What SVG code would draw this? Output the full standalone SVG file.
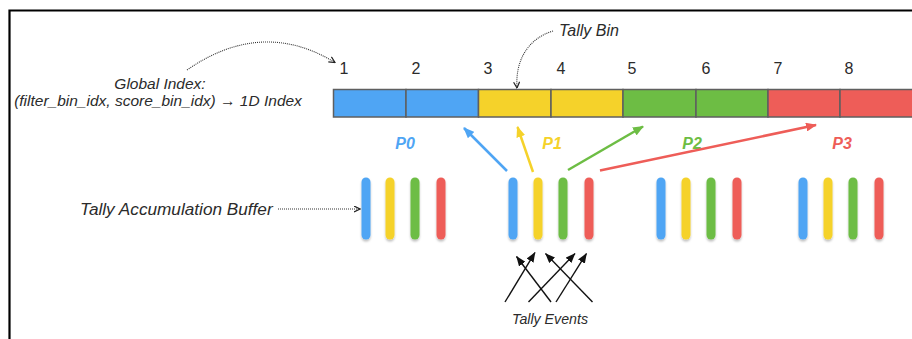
<svg xmlns="http://www.w3.org/2000/svg" width="912" height="339" viewBox="0 0 912 339">
<style>
.lbl{font-family:"Liberation Sans",Arial,sans-serif;font-style:italic;fill:#2b2b2b}
.num{font-family:"Liberation Sans",Arial,sans-serif;font-size:16px;fill:#2b2b2b;text-anchor:middle}
.p{font-family:"Liberation Sans",Arial,sans-serif;font-style:italic;font-weight:bold;font-size:16px;text-anchor:middle}
.bin{stroke:#5f5f5f;stroke-width:1.5}
.pill{stroke-width:9;stroke-linecap:round}
.dot{fill:none;stroke:#333;stroke-width:1.1;stroke-dasharray:1 1}
.carr{fill:none;stroke-width:2.5}
.ev{fill:none;stroke:#111;stroke-width:1.4}
</style>
<defs>
<filter id="sh" x="-1" y="-0.2" width="3" height="1.5">
<feDropShadow dx="0" dy="2" stdDeviation="1.2" flood-color="#000" flood-opacity="0.25"/>
</filter>
<marker id="ab" viewBox="0 0 11 9" refX="10" refY="4.5" markerWidth="11" markerHeight="9" markerUnits="userSpaceOnUse" orient="auto"><path d="M0,0 L11,4.5 L0,9 z" fill="#4FA5F4"/></marker>
<marker id="ay" viewBox="0 0 11 9" refX="10" refY="4.5" markerWidth="11" markerHeight="9" markerUnits="userSpaceOnUse" orient="auto"><path d="M0,0 L11,4.5 L0,9 z" fill="#F5D22A"/></marker>
<marker id="ag" viewBox="0 0 11 9" refX="10" refY="4.5" markerWidth="11" markerHeight="9" markerUnits="userSpaceOnUse" orient="auto"><path d="M0,0 L11,4.5 L0,9 z" fill="#6DBD44"/></marker>
<marker id="ar" viewBox="0 0 11 9" refX="10" refY="4.5" markerWidth="11" markerHeight="9" markerUnits="userSpaceOnUse" orient="auto"><path d="M0,0 L11,4.5 L0,9 z" fill="#EE5D58"/></marker>
<marker id="ak" viewBox="0 0 10 8" refX="9.5" refY="4" markerWidth="10" markerHeight="8" markerUnits="userSpaceOnUse" orient="auto"><path d="M0,0 L10,4 L0,8 z" fill="#111"/></marker>
<marker id="ao" viewBox="0 0 7 7" refX="6.5" refY="3.5" markerWidth="7" markerHeight="7" markerUnits="userSpaceOnUse" orient="auto"><path d="M0.5,0.5 L6.5,3.5 L0.5,6.5" fill="none" stroke="#222" stroke-width="1.2"/></marker>
</defs>
<rect width="912" height="339" fill="#fff"/>
<g id="frame" fill="none" stroke="#000" stroke-width="2.2">
<path d="M912,10.5 H9.5 V339"/>
</g>
<g id="bins">
<rect class="bin" x="333.5" y="89.5" width="72.5" height="27.5" fill="#4FA5F4"/>
<rect class="bin" x="406" y="89.5" width="72.5" height="27.5" fill="#4FA5F4"/>
<rect class="bin" x="478.5" y="89.5" width="72.5" height="27.5" fill="#F5D22A"/>
<rect class="bin" x="551" y="89.5" width="72" height="27.5" fill="#F5D22A"/>
<rect class="bin" x="623" y="89.5" width="73" height="27.5" fill="#6DBD44"/>
<rect class="bin" x="696" y="89.5" width="72" height="27.5" fill="#6DBD44"/>
<rect class="bin" x="768" y="89.5" width="72" height="27.5" fill="#EE5D58"/>
<rect class="bin" x="840" y="89.5" width="80" height="27.5" fill="#EE5D58"/>
</g>
<g id="bin-numbers">
<text class="num" x="344" y="74">1</text>
<text class="num" x="416" y="74">2</text>
<text class="num" x="488" y="74">3</text>
<text class="num" x="561" y="74">4</text>
<text class="num" x="632" y="74">5</text>
<text class="num" x="706" y="74">6</text>
<text class="num" x="778" y="74">7</text>
<text class="num" x="849" y="74">8</text>
</g>
<g id="global-index-label">
<text class="lbl" x="160" y="88.5" font-size="15.5" text-anchor="middle">Global Index:</text>
<text class="lbl" x="158" y="106" font-size="15.5" text-anchor="middle">(filter_bin_idx, score_bin_idx) → 1D Index</text>
</g>
<g id="tally-bin-label">
<text class="lbl" x="559" y="36" font-size="16">Tally Bin</text>
</g>
<g id="buffer-label">
<text class="lbl" x="80" y="215" font-size="17.2">Tally Accumulation Buffer</text>
</g>
<g id="events-label">
<text class="lbl" x="550" y="324" font-size="14.2" text-anchor="middle">Tally Events</text>
</g>
<g id="proc-labels">
<text class="p" x="405" y="149" fill="#4FA5F4">P0</text>
<text class="p" x="552" y="149" fill="#F5D22A">P1</text>
<text class="p" x="692" y="149" fill="#6DBD44">P2</text>
<text class="p" x="842" y="149" fill="#EE5D58">P3</text>
</g>
<g id="buffer-P0" class="pill" filter="url(#sh)">
<line x1="366" y1="182" x2="366" y2="235" stroke="#4FA5F4"/>
<line x1="390" y1="182" x2="390" y2="235" stroke="#F5D22A"/>
<line x1="415" y1="182" x2="415" y2="235" stroke="#6DBD44"/>
<line x1="441" y1="182" x2="441" y2="235" stroke="#EE5D58"/>
</g>
<g id="buffer-P1" class="pill" filter="url(#sh)">
<line x1="513" y1="182" x2="513" y2="235" stroke="#4FA5F4"/>
<line x1="538" y1="182" x2="538" y2="235" stroke="#F5D22A"/>
<line x1="563" y1="182" x2="563" y2="235" stroke="#6DBD44"/>
<line x1="589" y1="182" x2="589" y2="235" stroke="#EE5D58"/>
</g>
<g id="buffer-P2" class="pill" filter="url(#sh)">
<line x1="661" y1="182" x2="661" y2="235" stroke="#4FA5F4"/>
<line x1="686" y1="182" x2="686" y2="235" stroke="#F5D22A"/>
<line x1="711" y1="182" x2="711" y2="235" stroke="#6DBD44"/>
<line x1="737" y1="182" x2="737" y2="235" stroke="#EE5D58"/>
</g>
<g id="buffer-P3" class="pill" filter="url(#sh)">
<line x1="803" y1="182" x2="803" y2="235" stroke="#4FA5F4"/>
<line x1="828" y1="182" x2="828" y2="235" stroke="#F5D22A"/>
<line x1="853" y1="182" x2="853" y2="235" stroke="#6DBD44"/>
<line x1="879" y1="182" x2="879" y2="235" stroke="#EE5D58"/>
</g>
<g id="connectors">
<path class="dot" d="M187,70 Q262,18 335,62.5" marker-end="url(#ao)"/>
<path class="dot" d="M553,31 C530,38 515,58 517,88" marker-end="url(#ao)"/>
<path class="dot" d="M278,209 H360" marker-end="url(#ao)"/>
<line class="carr" x1="507" y1="171" x2="464" y2="128" stroke="#4FA5F4" marker-end="url(#ab)"/>
<line class="carr" x1="533" y1="172" x2="517.5" y2="127" stroke="#F5D22A" marker-end="url(#ay)"/>
<line class="carr" x1="568" y1="170" x2="643" y2="126.5" stroke="#6DBD44" marker-end="url(#ag)"/>
<line class="carr" x1="600" y1="170.5" x2="816" y2="125" stroke="#EE5D58" marker-end="url(#ar)"/>
<line class="ev" x1="505" y1="302" x2="535" y2="252.5" marker-end="url(#ak)"/>
<line class="ev" x1="551" y1="302" x2="516.5" y2="256.5" marker-end="url(#ak)"/>
<line class="ev" x1="528.5" y1="302" x2="575" y2="253.5" marker-end="url(#ak)"/>
<line class="ev" x1="556" y1="302" x2="586.5" y2="253.5" marker-end="url(#ak)"/>
<line class="ev" x1="592.5" y1="302" x2="545.5" y2="253.5" marker-end="url(#ak)"/>
</g>
</svg>
